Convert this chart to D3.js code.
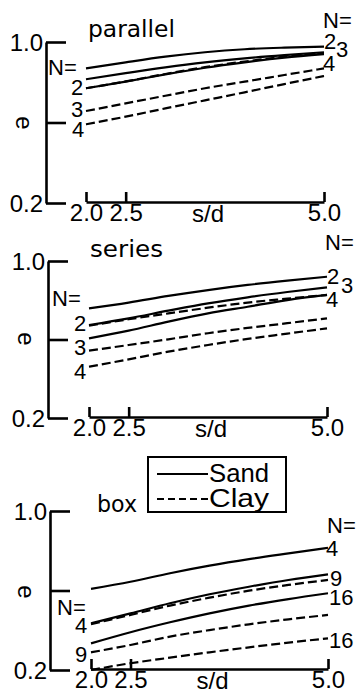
<!DOCTYPE html>
<html><head><meta charset="utf-8">
<script src="https://cdn.jsdelivr.net/npm/d3@7"></script>
<style>
html,body{margin:0;padding:0;background:#fff;}
svg{display:block;}
</style></head><body>
<svg id="chart" width="357" height="699"></svg>
<script>
// ---------- data ----------
const sdValues = [2.0, 2.5, 3.0, 3.5, 4.0, 4.5, 5.0];
const xTickValues = [2.0, 2.5, 5.0];
const xTickLabels = ["2.0", "2.5", "5.0"];
const yTickValues = [1.0, 0.6, 0.2];
const yTickLabels = ["1.0", "", "0.2"];
const panelTitles = ["parallel", "series", "box"];
const legendLabels = ["Sand", "Clay"];

// parallel arrangement
const parSand2 = [0.869, 0.899, 0.927, 0.949, 0.964, 0.972, 0.977];
const parSand3 = [0.815, 0.845, 0.874, 0.899, 0.919, 0.935, 0.949];
const parSand4 = [0.770, 0.803, 0.839, 0.872, 0.899, 0.922, 0.940];
const parClay2 = [0.770, 0.804, 0.841, 0.875, 0.903, 0.927, 0.945];
const parClay3 = [0.657, 0.695, 0.733, 0.770, 0.803, 0.836, 0.869];
const parClay4 = [0.591, 0.629, 0.670, 0.710, 0.750, 0.791, 0.831];

// series arrangement
const serSand2 = [0.759, 0.788, 0.822, 0.852, 0.878, 0.900, 0.920];
const serSand3 = [0.674, 0.708, 0.747, 0.784, 0.815, 0.842, 0.866];
const serSand4 = [0.606, 0.645, 0.691, 0.733, 0.767, 0.801, 0.827];
const serClay2 = [0.670, 0.703, 0.733, 0.762, 0.788, 0.808, 0.827];
const serClay3 = [0.543, 0.572, 0.601, 0.632, 0.659, 0.683, 0.708];
const serClay4 = [0.461, 0.499, 0.538, 0.572, 0.603, 0.630, 0.657];

// box arrangement
const boxSand4  = [0.608, 0.644, 0.687, 0.725, 0.758, 0.787, 0.815];
const boxSand9  = [0.435, 0.485, 0.536, 0.581, 0.619, 0.653, 0.681];
const boxSand16 = [0.334, 0.390, 0.440, 0.485, 0.524, 0.557, 0.586];
const boxClay4  = [0.430, 0.477, 0.524, 0.564, 0.599, 0.628, 0.653];
const boxClay9  = [0.289, 0.326, 0.368, 0.401, 0.430, 0.455, 0.477];
const boxClay16 = [0.200, 0.234, 0.262, 0.289, 0.314, 0.338, 0.359];

// N labels (text only)
const parLeftLabels  = ["N=", "2", "3", "4"];
const parRightLabels = ["N=", "2", "3", "4"];
const serLeftLabels  = ["N=", "2", "3", "4"];
const serRightLabels = ["N=", "2", "3", "4"];
const boxLeftLabels  = ["N=", "4", "9"];
const boxRightLabels = ["N=", "4", "9", "16", "16"];

// ---------- layout ----------
const FONT = "'Liberation Sans', Arial, sans-serif";
const TITLE_FONT = "'DejaVu Sans', sans-serif";
const svg = d3.select("#chart");

const panels = [
  { title: panelTitles[0], axisX: 46, yTop: 42, yBottom: 203, x0: 86, x1: 324,
    titlePos: [88, 37, 87], ePos: [25, 123],
    sand: [parSand2, parSand3, parSand4], clay: [parClay2, parClay3, parClay4],
    left: parLeftLabels, leftPos: [[48, 75], [71, 95], [71, 117], [72, 137]],
    right: parRightLabels, rightPos: [[323, 28], [324, 49], [336, 57], [323, 71]] },
  { title: panelTitles[1], axisX: 48, yTop: 261, yBottom: 418, x0: 89, x1: 327,
    titlePos: [90, 257, 73], ePos: [27, 339],
    sand: [serSand2, serSand3, serSand4], clay: [serClay2, serClay3, serClay4],
    left: serLeftLabels, leftPos: [[52, 306], [74, 331], [74, 355], [74, 379]],
    right: serRightLabels, rightPos: [[325, 250], [327, 284], [341, 293], [326, 307]] },
  { title: panelTitles[2], axisX: 50, yTop: 511, yBottom: 670, x0: 91, x1: 328,
    titlePos: [97, 512, 40], ePos: [27, 592],
    sand: [boxSand4, boxSand9, boxSand16], clay: [boxClay4, boxClay9, boxClay16],
    left: boxLeftLabels, leftPos: [[57, 615], [75, 633], [75, 662]],
    right: boxRightLabels, rightPos: [[327, 533], [326, 556], [330, 586], [329, 605], [329, 648]] }
];

function drawPanel(p) {
  const x = d3.scaleLinear().domain([2.0, 5.0]).range([p.x0, p.x1]);
  const y = d3.scaleLinear().domain([0.2, 1.0]).range([p.yBottom, p.yTop]);
  const g = svg.append("g");

  // y axis
  const yAxis = d3.axisLeft(y)
    .tickValues(yTickValues)
    .tickFormat(d => yTickLabels[yTickValues.indexOf(d)])
    .tickSizeInner(-20).tickSizeOuter(0).tickPadding(3);
  const ya = g.append("g").attr("transform", `translate(${p.axisX},0)`).call(yAxis);
  ya.attr("font-family", FONT).attr("font-size", 24);
  ya.selectAll("path,line").attr("stroke", "#000").attr("stroke-width", 2.6);
  ya.selectAll("text").attr("fill", "#000").attr("dy", "0.36em");

  // x axis
  const xAxis = d3.axisBottom(x)
    .tickValues(xTickValues)
    .tickFormat(d => xTickLabels[xTickValues.indexOf(d)])
    .tickSizeInner(-10).tickSizeOuter(0).tickPadding(2);
  const xa = g.append("g").attr("transform", `translate(0,${p.yBottom - 1})`).call(xAxis);
  xa.attr("font-family", FONT).attr("font-size", 24);
  xa.selectAll("path,line").attr("stroke", "#000").attr("stroke-width", 2.6);
  xa.selectAll("text").attr("fill", "#000");

  // x axis title
  g.append("text").attr("x", x(3.5) + 3).attr("y", p.yBottom + 19)
    .attr("text-anchor", "middle").attr("font-family", FONT).attr("font-size", 24)
    .text("s/d");

  // y axis title
  g.append("text").attr("transform", `translate(${p.ePos[0]},${p.ePos[1]}) rotate(90)`)
    .attr("text-anchor", "middle").attr("dy", "0.36em")
    .attr("font-family", FONT).attr("font-size", 24).text("e");

  // panel title
  g.append("text").attr("x", p.titlePos[0]).attr("y", p.titlePos[1])
    .attr("font-family", TITLE_FONT).attr("font-size", 23)
    .attr("textLength", p.titlePos[2]).attr("lengthAdjust", "spacingAndGlyphs")
    .text(p.title);

  // curves
  const line = d3.line().x((d, i) => x(sdValues[i])).y(d => y(d)).curve(d3.curveMonotoneX);
  p.clay.forEach(s => g.append("path").attr("d", line(s)).attr("fill", "none")
    .attr("stroke", "#000").attr("stroke-width", 2.2).attr("stroke-dasharray", "9,4"));
  p.sand.forEach(s => g.append("path").attr("d", line(s)).attr("fill", "none")
    .attr("stroke", "#000").attr("stroke-width", 2.2));

  // N labels
  p.left.forEach((t, i) => g.append("text").attr("x", p.leftPos[i][0]).attr("y", p.leftPos[i][1])
    .attr("font-family", FONT).attr("font-size", 22).text(t));
  p.right.forEach((t, i) => g.append("text").attr("x", p.rightPos[i][0]).attr("y", p.rightPos[i][1])
    .attr("font-family", FONT).attr("font-size", 22).text(t));
}

panels.forEach(drawPanel);

// legend
const lg = svg.append("g");
lg.append("rect").attr("x", 148).attr("y", 457).attr("width", 138).attr("height", 55)
  .attr("fill", "#fff").attr("stroke", "#000").attr("stroke-width", 2);
legendLabels.forEach((t, i) => {
  const ly = 474 + i * 25;
  lg.append("line").attr("x1", 157).attr("x2", 208).attr("y1", ly).attr("y2", ly)
    .attr("stroke", "#000").attr("stroke-width", 2)
    .attr("stroke-dasharray", i === 0 ? null : "7,4");
  lg.append("text").attr("x", 209).attr("y", ly + 8).attr("font-family", FONT)
    .attr("font-size", 25).attr("textLength", 60).attr("lengthAdjust", "spacingAndGlyphs").text(t);
});
</script>
</body></html>
